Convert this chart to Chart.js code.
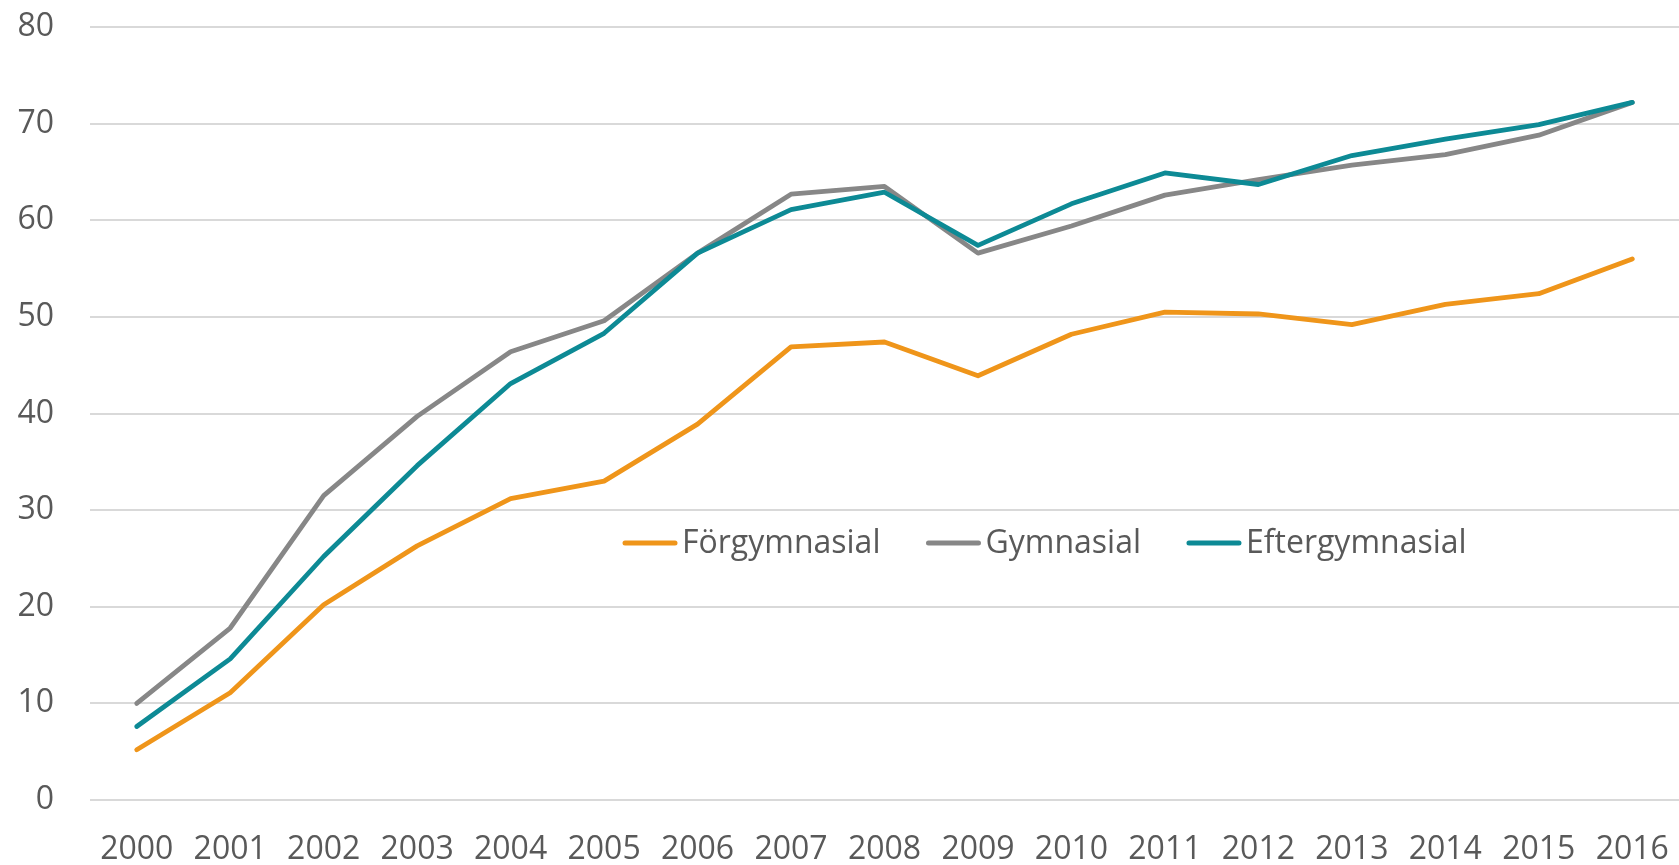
<!DOCTYPE html>
<html>
<head>
<meta charset="utf-8">
<script src="https://cdn.jsdelivr.net/npm/chart.js@4"></script>
<style>
  html, body { margin: 0; padding: 0; background: #fff; }
  #wrap { width: 1679px; height: 865px; position: relative; }
</style>
</head>
<body>
<div id="wrap"><canvas id="grafico"></canvas></div>
<script>
const years = ["2000","2001","2002","2003","2004","2005","2006","2007","2008","2009","2010","2011","2012","2013","2014","2015","2016"];
const forgymnasial = [5.2, 11.1, 20.2, 26.3, 31.2, 33.0, 38.9, 46.9, 47.4, 43.9, 48.2, 50.5, 50.3, 49.2, 51.3, 52.4, 56.0];
const gymnasial = [10.0, 17.8, 31.5, 39.7, 46.4, 49.6, 56.6, 62.7, 63.5, 56.6, 59.4, 62.6, 64.2, 65.7, 66.8, 68.8, 72.2];
const eftergymnasial = [7.6, 14.6, 25.2, 34.6, 43.1, 48.3, 56.6, 61.1, 62.9, 57.4, 61.7, 64.9, 63.7, 66.7, 68.4, 69.9, 72.2];
const seriesNames = ["Förgymnasial", "Gymnasial", "Eftergymnasial"];
const yTicks = [0, 10, 20, 30, 40, 50, 60, 70, 80];

const colores = ["#EF951A", "#878787", "#0D8A95"];
const textColor = "#595959";
const fontFamily = "'Open Sans', sans-serif";

// legend drawn inside the plot area, like the original
const legendaInterna = {
  id: 'legendaInterna',
  afterDraw(chart) {
    const ctx = chart.ctx;
    const y = 543;
    let x = 623;
    ctx.save();
    ctx.font = "32px " + fontFamily;
    ctx.textBaseline = 'middle';
    ctx.textAlign = 'left';
    chart.data.datasets.forEach(ds => {
      ctx.strokeStyle = ds.borderColor;
      ctx.lineWidth = 5;
      ctx.lineCap = 'round';
      ctx.beginPath();
      ctx.moveTo(x + 2, y);
      ctx.lineTo(x + 52, y);
      ctx.stroke();
      ctx.fillStyle = textColor;
      ctx.fillText(ds.label, x + 59, y + 1);
      x += 59 + ctx.measureText(ds.label).width + 46;
    });
    ctx.restore();
  }
};

const ctx = document.getElementById('grafico').getContext('2d');
new Chart(ctx, {
  type: 'line',
  data: {
    labels: years,
    datasets: [
      { label: seriesNames[0], data: forgymnasial, borderColor: colores[0], order: 3 },
      { label: seriesNames[1], data: gymnasial, borderColor: colores[1], order: 2 },
      { label: seriesNames[2], data: eftergymnasial, borderColor: colores[2], order: 1 }
    ].map(ds => Object.assign(ds, {
      borderWidth: 4.8,
      pointRadius: 0,
      tension: 0,
      fill: false,
      borderCapStyle: 'round',
      borderJoinStyle: 'round'
    }))
  },
  options: {
    responsive: true,
    maintainAspectRatio: false,
    animation: false,
    layout: { padding: { top: 27, right: 0, bottom: 0, left: 0 } },
    plugins: {
      legend: { display: false },
      tooltip: { enabled: false }
    },
    scales: {
      x: {
        offset: true,
        grid: { display: false, drawTicks: false },
        border: { display: false },
        ticks: {
          color: textColor,
          font: { family: fontFamily, size: 32, lineHeight: 1.0 },
          padding: 34,
          maxRotation: 0,
          autoSkip: false
        },
        afterFit(axis) {
          axis.height = 65;
          axis.paddingLeft = 0;
          axis.paddingRight = 0;
        }
      },
      y: {
        min: 0,
        max: 80,
        afterBuildTicks(axis) { axis.ticks = yTicks.map(v => ({ value: v })); },
        grid: { color: "#d9d9d9", lineWidth: 2, drawTicks: false },
        border: { display: false },
        ticks: {
          color: textColor,
          font: { family: fontFamily, size: 32 },
          padding: 36
        },
        afterFit(axis) {
          axis.width = 90;
          axis.paddingTop = 0;
          axis.paddingBottom = 0;
        }
      }
    }
  },
  plugins: [legendaInterna]
});
</script>
</body>
</html>
